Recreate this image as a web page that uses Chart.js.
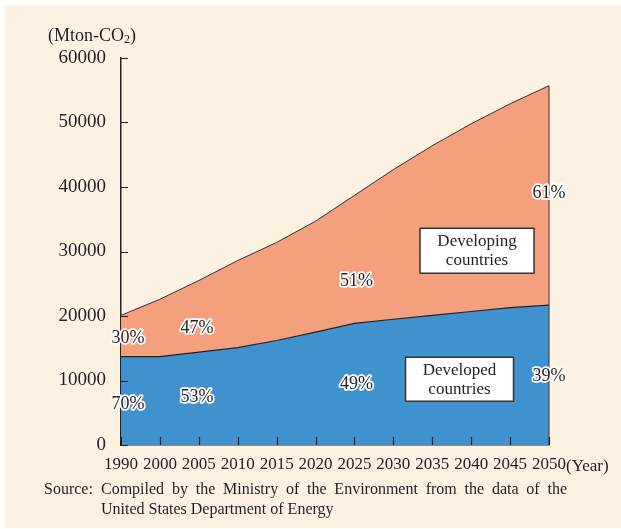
<!DOCTYPE html>
<html>
<head>
<meta charset="utf-8">
<script src="https://cdn.jsdelivr.net/npm/chart.js@4.4.1/dist/chart.umd.min.js"></script>
<style>
  html, body { margin: 0; padding: 0; background: #fff; }
  canvas { display: block; }
</style>
</head>
<body>
<canvas id="co2Chart" width="621" height="529"></canvas>
<script>
const years = ["1990", "2000", "2005", "2010", "2015", "2020", "2025", "2030", "2035", "2040", "2045", "2050"]
const developed = [13700, 13700, 14400, 15100, 16200, 17500, 18850, 19500, 20100, 20700, 21300, 21700]
const developing = [6400, 8900, 11100, 13500, 15200, 17200, 19850, 23200, 26300, 29100, 31600, 34000]

// share labels: text, year index, level (Mton)
const shareLabels = [
  ["30%", 0.18, 16500],
  ["70%", 0.18, 6300],
  ["47%", 1.95, 18100],
  ["53%", 1.95, 7400],
  ["51%", 6.05, 25350],
  ["49%", 6.05, 9400],
  ["61%", 11, 39100],
  ["39%", 11, 10700],
]

// boxed series names: lines, year index, level, box size
const seriesBoxes = [
  [["Developing", "countries"], 9.15, 30100, 114, 45],
  [["Developed", "countries"], 8.7, 10200, 108, 44],
]

const SERIF = "'Liberation Serif', 'Times New Roman', serif"
const INK = "#231f20"
const CREAM = "#fdf1e2"
const BLUE = "#4092cf"
const SALMON = "#f5a07d"

Chart.defaults.font.family = SERIF
Chart.defaults.color = INK

const decor = {
  id: "decor",
  beforeDraw(chart) {
    const ctx = chart.ctx
    ctx.save()
    ctx.fillStyle = "#fff"
    ctx.fillRect(0, 0, chart.width, chart.height)
    ctx.fillStyle = CREAM
    ctx.fillRect(5, 5, chart.width - 5, chart.height - 6)
    ctx.restore()
  },
  afterDraw(chart) {
    const { ctx, scales } = chart
    const x = scales.x
    const y = scales.y
    const bottom = y.getPixelForValue(0)
    const left = x.getPixelForValue(0)
    ctx.save()

    // right edge of the stacked areas
    const last = years.length - 1
    ctx.strokeStyle = "#333"
    ctx.lineWidth = 1
    ctx.beginPath()
    ctx.moveTo(x.getPixelForValue(last), y.getPixelForValue(developed[last] + developing[last]))
    ctx.lineTo(x.getPixelForValue(last), bottom)
    ctx.stroke()

    // inward tick marks
    ctx.strokeStyle = "#222"
    ctx.lineWidth = 1.2
    ctx.beginPath()
    y.ticks.forEach((t) => {
      const py = Math.round(y.getPixelForValue(t.value)) + 0.5
      ctx.moveTo(left, py)
      ctx.lineTo(left + 7, py)
    })
    years.forEach((_, i) => {
      const px = Math.round(x.getPixelForValue(i)) + 0.5
      ctx.moveTo(px, bottom)
      ctx.lineTo(px, bottom - 8)
    })
    ctx.stroke()

    // share labels with white halo
    ctx.font = "18px " + SERIF
    ctx.textAlign = "center"
    ctx.textBaseline = "middle"
    ctx.lineJoin = "round"
    shareLabels.forEach(([text, i, v]) => {
      const px = x.getPixelForValue(i)
      const py = y.getPixelForValue(v)
      ctx.strokeStyle = "#fff"
      ctx.lineWidth = 3.5
      ctx.strokeText(text, px, py)
      ctx.fillStyle = INK
      ctx.fillText(text, px, py)
    })

    // series name boxes
    ctx.font = "17px " + SERIF
    seriesBoxes.forEach(([lines, i, v, w, h]) => {
      const cx = x.getPixelForValue(i)
      const cy = y.getPixelForValue(v)
      ctx.fillStyle = "#fff"
      ctx.fillRect(cx - w / 2, cy - h / 2, w, h)
      ctx.strokeStyle = "#333"
      ctx.lineWidth = 1.5
      ctx.strokeRect(cx - w / 2, cy - h / 2, w, h)
      ctx.fillStyle = INK
      ctx.fillText(lines[0], cx, cy - 9)
      ctx.fillText(lines[1], cx, cy + 10)
    })

    // unit label
    ctx.textAlign = "left"
    ctx.textBaseline = "alphabetic"
    ctx.font = "18px " + SERIF
    let tx = 48
    ctx.fillText("(Mton-CO", tx, 41)
    tx += ctx.measureText("(Mton-CO").width
    ctx.font = "12px " + SERIF
    ctx.fillText("2", tx, 43)
    tx += ctx.measureText("2").width
    ctx.font = "18px " + SERIF
    ctx.fillText(")", tx, 41)

    // x unit
    ctx.font = "17px " + SERIF
    ctx.fillText("(Year)", x.getPixelForValue(last) + 17, 471)

    // source, first line justified
    ctx.font = "16px " + SERIF
    ctx.fillText("Source:", 44, 494)
    const words = "Compiled by the Ministry of the Environment from the data of the".split(" ")
    const widths = words.map((w) => ctx.measureText(w).width)
    const total = widths.reduce((a, b) => a + b, 0)
    const gap = (567 - 101 - total) / (words.length - 1)
    let wx = 101
    words.forEach((w, k) => {
      ctx.fillText(w, wx, 494)
      wx += widths[k] + gap
    })
    ctx.fillText("United States Department of Energy", 101, 514)

    ctx.restore()
  },
}

new Chart(document.getElementById("co2Chart"), {
  type: "line",
  data: {
    labels: years,
    datasets: [
      {
        label: "Developed countries",
        data: developed,
        fill: "origin",
        backgroundColor: BLUE,
        borderColor: "#222",
        borderWidth: 1.2,
        pointRadius: 0,
        tension: 0,
      },
      {
        label: "Developing countries",
        data: developing,
        fill: "-1",
        backgroundColor: SALMON,
        borderColor: "#333",
        borderWidth: 1,
        pointRadius: 0,
        tension: 0,
      },
    ],
  },
  options: {
    responsive: false,
    animation: false,
    devicePixelRatio: 1,
    layout: { padding: { left: 0, right: 72, top: 58, bottom: 54 } },
    plugins: {
      legend: { display: false },
      tooltip: { enabled: false },
    },
    scales: {
      x: {
        z: 1,
        grid: { display: false, drawTicks: false },
        border: { display: true, color: "#222", width: 1.5 },
        ticks: { font: { size: 17 }, color: INK, padding: 9, autoSkip: false, maxRotation: 0 },
        afterFit: (scale) => { scale.height = 30 },
      },
      y: {
        z: 1,
        stacked: true,
        min: 0,
        max: 60000,
        grid: { display: false, drawTicks: false },
        border: { display: true, color: "#222", width: 1.5 },
        ticks: { stepSize: 10000, font: { size: 19 }, color: INK, padding: 15, callback: (v) => String(v) },
        afterFit: (scale) => { scale.width = 121 },
      },
    },
  },
  plugins: [decor],
})
</script>
</body>
</html>
